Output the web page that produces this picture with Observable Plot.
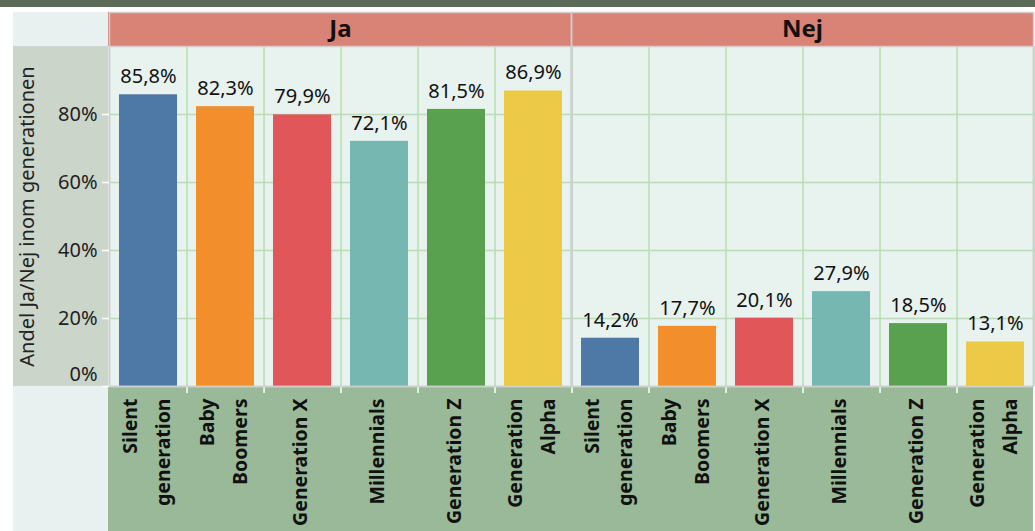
<!DOCTYPE html>
<html>
<head>
<meta charset="utf-8">
<script src="https://cdn.jsdelivr.net/npm/d3@7"></script>
<script src="https://cdn.jsdelivr.net/npm/@observablehq/plot@0.6"></script>
<style>
  body { margin: 0; background: #ffffff; font-family: "Noto Sans", sans-serif; }
  #wrap { position: relative; width: 1035px; height: 531px; overflow: hidden; }
  .bg { position: absolute; }
  #chart { position: absolute; left: 0; top: 0; }
</style>
</head>
<body>
<div id="wrap">
  <div class="bg" style="left:0;top:0;width:1035px;height:7px;background:#5b6b57"></div>
  <div class="bg" style="left:13px;top:12px;width:95px;height:34px;background:#e8f1ef"></div>
  <div class="bg" style="left:108px;top:12px;width:925px;height:34px;background:#d98276"></div>
  <div class="bg" style="left:13px;top:46px;width:95px;height:340px;background:#ccd5ca"></div>
  <div class="bg" style="left:108px;top:46px;width:925px;height:340px;background:#e8f2ef"></div>
  <div class="bg" style="left:13px;top:386px;width:95px;height:145px;background:#e8f1ef"></div>
  <div class="bg" style="left:108px;top:386px;width:925px;height:145px;background:#99b999"></div>
  <div id="chart"></div>
</div>
<script>
const answers = ["Ja", "Nej"];
const generations = ["Silent generation", "Baby Boomers", "Generation X", "Millennials", "Generation Z", "Generation Alpha"];
const generationLabels = ["Silent\ngeneration", "Baby\nBoomers", "Generation X", "Millennials", "Generation Z", "Generation\nAlpha"];
const jaValues = [0.858, 0.823, 0.799, 0.721, 0.815, 0.869];
const nejValues = [0.142, 0.177, 0.201, 0.279, 0.185, 0.131];
const yTicks = [0.2, 0.4, 0.6, 0.8];
const colors = ["#4e79a7", "#f28e2b", "#e15759", "#76b7b2", "#59a14f", "#edc948"];

const rows = [];
generations.forEach((g, i) => {
  rows.push({answer: "Ja", generation: g, label: generationLabels[i], value: jaValues[i]});
  rows.push({answer: "Nej", generation: g, label: generationLabels[i], value: nejValues[i]});
});

const sv = d3.formatLocale({decimal: ",", thousands: "\u00a0", grouping: [3], currency: ["", " kr"]});
const pct1 = sv.format(".1%");
const pct0 = sv.format(".0%");

const W = 1035, H = 531, mL = 108, mR = 2, mT = 46, mB = 145;
const step = (W - mL - mR) / answers.length / generations.length;

const chart = Plot.plot({
  width: W,
  height: H,
  marginLeft: mL,
  marginRight: mR,
  marginTop: mT,
  marginBottom: mB,
  style: {background: "transparent", fontFamily: "Noto Sans, sans-serif", overflow: "visible"},
  fx: {domain: answers, padding: 0, axis: null},
  x: {domain: generations, paddingInner: 0.25, paddingOuter: 0.125, axis: null},
  y: {domain: [0, 1]},
  color: {domain: generations, range: colors},
  marks: [
    Plot.gridY(yTicks, {stroke: "#b6e0ae", strokeOpacity: 1, strokeWidth: 1.5}),
    Plot.ruleX(rows, {fx: "answer", x: "generation", dx: step / 2, stroke: "#b6e0ae", strokeWidth: 1.5}),
    Plot.barY(rows, {fx: "answer", x: "generation", y: "value", fill: "generation"}),
    Plot.ruleX(rows, {fx: "answer", x: "generation", y1: 0, y2: 0, insetBottom: -7, dx: step / 2, stroke: "white", strokeWidth: 1.5}),
    Plot.frame({stroke: "#cfcfcf", strokeWidth: 1.5}),
    Plot.frame({stroke: "#cfcfcf", strokeWidth: 1.5, insetTop: -34}),
    Plot.text(rows, {fx: "answer", x: "generation", y: "value", text: d => pct1(d.value), dy: -18, fontSize: 20, fill: "#111"}),
    Plot.text(answers, {fx: d => d, text: d => d, frameAnchor: "top", lineAnchor: "middle", dy: -17.5, fontSize: 24, fontWeight: "bold", fill: "#111"}),
    Plot.text(rows, {fx: "answer", x: "generation", text: "label", frameAnchor: "bottom", rotate: -90, textAnchor: "end", lineAnchor: "middle", lineHeight: 1.7, dy: 12, dx: -6, fontSize: 19.5, fontWeight: "bold", fill: "#111"}),
    Plot.axisY({ticks: [0, ...yTicks], tickSize: 7, tickPadding: 5, stroke: "white", strokeWidth: 1.5, tickFormat: d => d === 0 ? "" : pct0(d), fontSize: 20, fill: "#222",
      label: "Andel Ja/Nej inom generationen", labelAnchor: "center", labelOffset: 90, labelArrow: "none"}),
    Plot.axisY({ticks: [0], tickSize: 0, tickPadding: 12, dy: -12, tickFormat: pct0, fontSize: 20, fill: "#222", label: null})
  ]
});
document.getElementById("chart").appendChild(chart);
</script>
</body>
</html>
